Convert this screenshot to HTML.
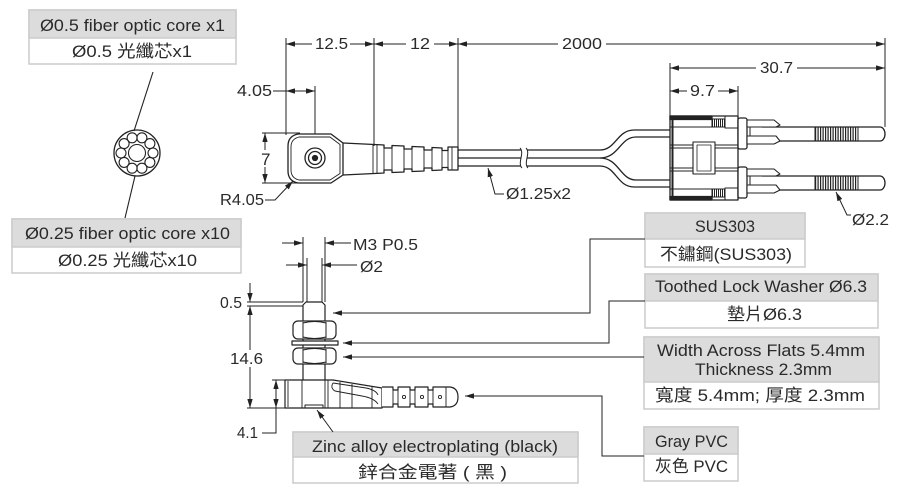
<!DOCTYPE html>
<html><head><meta charset="utf-8"><style>
html,body{margin:0;padding:0;background:#fff;}
svg{display:block;}
text{font-family:"Liberation Sans","Noto Sans CJK TC",sans-serif;fill:#2a2a2a;font-size:16px;}
text.b{font-size:17px;}
</style></head><body>
<svg width="900" height="491" viewBox="0 0 900 491" xmlns="http://www.w3.org/2000/svg">
<defs>
<marker id="ar" viewBox="0 0 10 6" refX="10" refY="3" markerWidth="9" markerHeight="5.4" markerUnits="userSpaceOnUse" orient="auto-start-reverse"><path d="M0,0L10,3L0,6z" fill="#222"/></marker>
<pattern id="kn" x="815" y="0" width="2.5" height="10" patternUnits="userSpaceOnUse"><line x1="0.6" y1="0" x2="0.6" y2="10" stroke="#222" stroke-width="1.2"/></pattern>
<pattern id="hs" x="712" y="0" width="2" height="10" patternUnits="userSpaceOnUse"><line x1="0.5" y1="0" x2="0.5" y2="10" stroke="#222" stroke-width="1"/></pattern>
</defs>
<rect width="900" height="491" fill="#fff"/>

<!-- ===== label boxes ===== -->
<g stroke="#cbcbcb" stroke-width="1.5">
<rect x="29" y="10" width="207" height="54" fill="#fff"/><rect x="29" y="10" width="207" height="28" fill="#dcdcdc"/>
<rect x="12" y="219" width="229" height="54" fill="#fff"/><rect x="12" y="219" width="229" height="28" fill="#dcdcdc"/>
<rect x="645" y="213" width="160" height="54" fill="#fff"/><rect x="645" y="213" width="160" height="26" fill="#dcdcdc"/>
<rect x="645" y="274" width="233" height="54" fill="#fff"/><rect x="645" y="274" width="233" height="27" fill="#dcdcdc"/>
<rect x="644" y="337" width="235" height="72" fill="#fff"/><rect x="644" y="337" width="235" height="45" fill="#dcdcdc"/>
<rect x="644" y="427" width="94" height="54" fill="#fff"/><rect x="644" y="427" width="94" height="27" fill="#dcdcdc"/>
<rect x="293" y="432" width="285" height="51" fill="#fff"/><rect x="293" y="432" width="285" height="25" fill="#dcdcdc"/>
</g>
<text class="b" x="40" y="31" textLength="185" lengthAdjust="spacingAndGlyphs">Ø0.5 fiber optic core x1</text>
<text class="b" x="72" y="57" textLength="120" lengthAdjust="spacingAndGlyphs">Ø0.5 光纖芯x1</text>
<text class="b" x="25" y="239" textLength="205" lengthAdjust="spacingAndGlyphs">Ø0.25 fiber optic core x10</text>
<text class="b" x="58" y="266" textLength="139" lengthAdjust="spacingAndGlyphs">Ø0.25 光纖芯x10</text>
<text class="b" x="695" y="232" textLength="60" lengthAdjust="spacingAndGlyphs">SUS303</text>
<text class="b" x="660" y="260" textLength="132" lengthAdjust="spacingAndGlyphs">不鏽鋼(SUS303)</text>
<text class="b" x="655" y="292" textLength="212" lengthAdjust="spacingAndGlyphs">Toothed Lock Washer Ø6.3</text>
<text class="b" x="727" y="320" textLength="75" lengthAdjust="spacingAndGlyphs">墊片Ø6.3</text>
<text class="b" x="657" y="356" textLength="208" lengthAdjust="spacingAndGlyphs">Width Across Flats 5.4mm</text>
<text class="b" x="695" y="375" textLength="137" lengthAdjust="spacingAndGlyphs">Thickness 2.3mm</text>
<text class="b" x="655" y="401" textLength="210" lengthAdjust="spacingAndGlyphs">寬度 5.4mm; 厚度 2.3mm</text>
<text class="b" x="655" y="447" textLength="73" lengthAdjust="spacingAndGlyphs">Gray PVC</text>
<text class="b" x="655" y="472" textLength="73" lengthAdjust="spacingAndGlyphs">灰色 PVC</text>
<text class="b" x="312" y="452" textLength="246" lengthAdjust="spacingAndGlyphs">Zinc alloy electroplating (black)</text>
<text class="b" x="358" y="478" textLength="149" lengthAdjust="spacingAndGlyphs">鋅合金電著 ( 黑 )</text>

<!-- ===== fiber cross-section ===== -->
<g stroke="#222" stroke-width="1.1" fill="none">
<line x1="153" y1="72" x2="134" y2="131"/>
<line x1="135" y1="176" x2="125" y2="218"/>
<circle cx="137" cy="153" r="23" stroke-width="1.3"/>
<circle cx="137" cy="153" r="8.5"/>
<circle cx="153" cy="153" r="5"/><circle cx="149.9" cy="162.4" r="5"/><circle cx="141.9" cy="168.2" r="5"/><circle cx="132.1" cy="168.2" r="5"/><circle cx="124.1" cy="162.4" r="5"/>
<circle cx="121" cy="153" r="5"/><circle cx="124.1" cy="143.6" r="5"/><circle cx="132.1" cy="137.8" r="5"/><circle cx="141.9" cy="137.8" r="5"/><circle cx="149.9" cy="143.6" r="5"/>
</g>

<!-- ===== top view dimensions ===== -->
<g stroke="#222" stroke-width="1" fill="none">
<line x1="286" y1="38" x2="286" y2="135"/>
<line x1="374" y1="38" x2="374" y2="146"/>
<line x1="458" y1="38" x2="458" y2="149"/>
<line x1="885" y1="38" x2="885" y2="127"/>
<line x1="286" y1="44" x2="374" y2="44" marker-start="url(#ar)" marker-end="url(#ar)"/>
<line x1="374" y1="44" x2="458" y2="44" marker-start="url(#ar)" marker-end="url(#ar)"/>
<line x1="458" y1="44" x2="885" y2="44" marker-start="url(#ar)" marker-end="url(#ar)"/>
<line x1="315" y1="86" x2="315" y2="158"/>
<line x1="273" y1="91" x2="286" y2="91"/>
<line x1="286" y1="91" x2="315" y2="91" marker-start="url(#ar)" marker-end="url(#ar)"/>
<line x1="262" y1="133" x2="300" y2="133"/>
<line x1="262" y1="183" x2="300" y2="183"/>
<line x1="265" y1="133" x2="265" y2="183" marker-start="url(#ar)" marker-end="url(#ar)"/>
<polyline points="265,200 275,200 293,181" marker-end="url(#ar)"/>
<line x1="670" y1="63" x2="670" y2="116"/>
<line x1="738" y1="86" x2="738" y2="116"/>
<line x1="670" y1="68" x2="885" y2="68" marker-start="url(#ar)" marker-end="url(#ar)"/>
<line x1="670" y1="91" x2="738" y2="91" marker-start="url(#ar)" marker-end="url(#ar)"/>
<polyline points="504,194 495,194 488,168" marker-end="url(#ar)"/>
<polyline points="851,215 847,215 836,192" marker-end="url(#ar)"/>
</g>
<g fill="#fff">
<rect x="312" y="36" width="38" height="16"/><rect x="406" y="36" width="28" height="16"/><rect x="558" y="36" width="48" height="16"/>
<rect x="756" y="60" width="41" height="16"/><rect x="687" y="83" width="31" height="16"/><rect x="259" y="150" width="13" height="17"/>
<rect x="228" y="350" width="38" height="17"/>
</g>
<text x="315" y="49" textLength="33" lengthAdjust="spacingAndGlyphs">12.5</text>
<text x="410" y="49" textLength="20" lengthAdjust="spacingAndGlyphs">12</text>
<text x="562" y="49" textLength="40" lengthAdjust="spacingAndGlyphs">2000</text>
<text x="237" y="96" textLength="35" lengthAdjust="spacingAndGlyphs">4.05</text>
<text x="261" y="165" style="font-size:17px">7</text>
<text x="220" y="205" textLength="44" lengthAdjust="spacingAndGlyphs">R4.05</text>
<text x="760" y="73" textLength="33" lengthAdjust="spacingAndGlyphs">30.7</text>
<text x="690" y="96" textLength="25" lengthAdjust="spacingAndGlyphs">9.7</text>
<text x="506" y="199" textLength="65" lengthAdjust="spacingAndGlyphs">Ø1.25x2</text>
<text x="852" y="225" textLength="37" lengthAdjust="spacingAndGlyphs">Ø2.2</text>

<!-- ===== top view: head + boot ===== -->
<g stroke="#222" stroke-width="1.3" fill="none" stroke-linejoin="round">
<path d="M298,134 L331,134 L343,143 L343,175 L331,183 L298,183 Q288,181 288,171 L288,146 Q288,136 298,134 Z" fill="#fff"/>
<path d="M299,137 L330,137 L340,144.5 L340,173.5 L330,180 L299,180 Q291,178 291,170 L291,147 Q291,139 299,137 Z" stroke-width="0.9"/>
<circle cx="315" cy="158" r="10"/>
<circle cx="315" cy="158" r="6.5"/>
<circle cx="315" cy="158" r="2.5" fill="#222"/>
<path d="M343,143 L384,145 L384,148 L392,148 L392,145.5 L404,146 L404,149 L412,149 L412,146.5 L424,147 L424,150 L432,150 L432,147.5 L442,148 L442,150.5 L448,150.5 L448,147 L458,147 L458,170 L448,170 L448,167.5 L442,167.5 L442,170 L432,170.5 L432,168 L424,168 L424,171 L412,171.5 L412,169 L404,169 L404,172 L392,172.5 L392,170 L384,170 L384,173 L343,175"/>
<path d="M373,145 V173 M377,145 V173 M384,148 V170 M392,148 V170 M404,149 V169 M412,149 V169 M424,150 V168 M432,150 V168 M442,150 V168 M448,150 V168 M452,147 V170" stroke-width="0.9"/>
<!-- cable -->
<path d="M458,150 H521 M458,158 H521 M458,166 H521 M527,150 H600 M527,158 H600 M527,166 H600"/>
<path d="M520,148 C525,153 517,163 522,168 M526,148 C531,153 523,163 528,168" stroke-width="1"/>
<path d="M600,150 C616,150 617,130 634,130 L670,130"/>
<path d="M600,158 C619,158 620,137 636,137 L670,137"/>
<path d="M600,158 C619,158 620,180 636,180 L670,180"/>
<path d="M600,166 C616,166 617,187 634,187 L670,187"/>
<!-- connector housing -->
<rect x="670" y="116" width="68" height="84" fill="#fff"/>
<line x1="672.5" y1="117" x2="672.5" y2="199" stroke-width="2"/>
<rect x="670" y="116" width="42" height="3.5" fill="#222"/>
<rect x="670" y="196.5" width="42" height="3.5" fill="#222"/>
<rect x="712" y="119" width="13" height="8" fill="url(#hs)" stroke-width="1"/>
<rect x="712" y="189" width="13" height="8" fill="url(#hs)" stroke-width="1"/>
<rect x="725" y="116" width="13" height="12" stroke-width="1"/>
<rect x="725" y="188" width="13" height="12" stroke-width="1"/>
<path d="M670,127 H712 M670,145 H693 M715,145 H738 M670,148 H693 M715,148 H738 M670,168 H693 M715,168 H738 M670,171 H693 M715,171 H738 M670,189 H712" stroke-width="1"/>
<rect x="693" y="142" width="22" height="32" stroke-width="1.1"/>
<rect x="697" y="145" width="14" height="26" stroke-width="0.8"/>
<!-- flanges -->
<rect x="738" y="118" width="9" height="31" rx="2" fill="#fff"/>
<rect x="738" y="167" width="9" height="31" rx="2" fill="#fff"/>
<!-- ferrules -->
<path d="M762,127 L880,127 A5,7 0 0 1 880,141 L762,141" fill="#fff"/>
<path d="M762,176 L880,176 A5,7 0 0 1 880,190 L762,190" fill="#fff"/>
<rect x="815" y="127" width="43" height="14" fill="url(#kn)" stroke-width="1"/>
<rect x="815" y="176" width="43" height="14" fill="url(#kn)" stroke-width="1"/>
<!-- fingers -->
<path d="M747,120 L774,120 L780,125 L776,127 L747,127 Z M747,136 L776,136 L780,141 L774,144 L747,144 Z" fill="#fff" stroke-width="1.1"/>
<path d="M747,169 L774,169 L780,174 L776,176 L747,176 Z M747,185 L776,185 L780,190 L774,193 L747,193 Z" fill="#fff" stroke-width="1.1"/>
<path d="M750,127 V136 M750,176 V185" stroke-width="1"/>
</g>

<!-- ===== side view ===== -->
<g stroke="#222" stroke-width="1" fill="none">
<line x1="303" y1="237" x2="303" y2="302"/>
<line x1="325" y1="237" x2="325" y2="302"/>
<line x1="307" y1="258" x2="307" y2="305"/>
<line x1="322" y1="258" x2="322" y2="305"/>
<line x1="282" y1="243" x2="303" y2="243" marker-end="url(#ar)"/>
<line x1="351" y1="243" x2="325" y2="243" marker-end="url(#ar)"/>
<line x1="286" y1="265" x2="307" y2="265" marker-end="url(#ar)"/>
<line x1="357" y1="265" x2="322" y2="265" marker-end="url(#ar)"/>
<line x1="247" y1="302" x2="303" y2="302"/>
<line x1="247" y1="306" x2="303" y2="306"/>
<line x1="250" y1="283" x2="250" y2="302" marker-end="url(#ar)"/>
<line x1="250" y1="306" x2="250" y2="408" marker-start="url(#ar)" marker-end="url(#ar)"/>
<line x1="247" y1="408" x2="285" y2="408"/>
<line x1="272" y1="380" x2="285" y2="380"/>
<line x1="276" y1="380" x2="276" y2="408" marker-start="url(#ar)" marker-end="url(#ar)"/>
<polyline points="276,408 276,433 262,433"/>
<!-- leaders -->
<polyline points="645,239 590,239 590,313 333,313" marker-end="url(#ar)"/>
<polyline points="645,301 609,301 609,343 343,343" marker-end="url(#ar)"/>
<polyline points="644,357 343,357" marker-end="url(#ar)"/>
<polyline points="644,456 602,456 602,396 465,396" marker-end="url(#ar)"/>
<line x1="333" y1="432" x2="317" y2="410" marker-end="url(#ar)"/>
</g>
<rect x="228" y="350" width="38" height="17" fill="#fff"/>
<text x="353" y="250" textLength="65" lengthAdjust="spacingAndGlyphs">M3 P0.5</text>
<text x="360" y="272" textLength="23" lengthAdjust="spacingAndGlyphs">Ø2</text>
<text x="220" y="308" textLength="22" lengthAdjust="spacingAndGlyphs">0.5</text>
<text x="230" y="364" textLength="33" lengthAdjust="spacingAndGlyphs">14.6</text>
<text x="237" y="438" textLength="21" lengthAdjust="spacingAndGlyphs">4.1</text>

<g stroke="#222" stroke-width="1.2" fill="none" stroke-linejoin="round">
<path d="M303,380 L303,305 L306,302 L322,302 L325,305 L325,380" fill="#fff"/>
<!-- nut 1 -->
<rect x="293" y="321" width="43" height="18" rx="5" fill="#fff"/>
<path d="M303,322 V338 M326,322 V338 M303,323 Q314.5,320 326,323 M303,337 Q314.5,340 326,337" stroke-width="1"/>
<!-- washer -->
<rect x="292" y="341" width="46" height="4" fill="#fff"/>
<!-- nut 2 -->
<rect x="293" y="348" width="43" height="16" rx="5" fill="#fff"/>
<path d="M303,349 V363 M326,349 V363 M303,350 Q314.5,347 326,350 M303,362 Q314.5,365 326,362" stroke-width="1"/>
<!-- base body -->
<path d="M285,380 L333,380 L382,388 L382,407 L382,408 L285,408 Z" fill="#fff"/>
<path d="M288,381 V407 M302,380 V408 M325,380 V408 M328,380 V408 M340,382 V408 M352,384 V408 M372,387 V408" stroke-width="0.9"/>
<path d="M333,383 Q330,388 335,391 L362,396 Q374,398 378,404" stroke-width="0.9"/>
<path d="M333,383 L366,388 Q376,390 378,395" stroke-width="0.9"/>
<rect x="305" y="405" width="18" height="3" stroke-width="1"/>
<!-- side boot -->
<path d="M382,387 L393,387 L393,390 L398,390 L398,387 L410,387 L410,390 L415,390 L415,387 L428,387 L428,390 L433,390 L433,387 L450,387 Q458,388 458,397 Q458,406 450,407 L433,407 L433,404 L428,404 L428,407 L415,407 L415,404 L410,404 L410,407 L398,407 L398,404 L393,404 L393,407 L382,407" fill="#fff"/>
<path d="M393,390 V404 M398,390 V404 M410,390 V404 M415,390 V404 M428,390 V404 M433,390 V404 M446,387 V407" stroke-width="0.9"/>
<circle cx="404" cy="397" r="1.6" stroke-width="0.9"/><circle cx="422" cy="397" r="1.6" stroke-width="0.9"/><circle cx="440" cy="397" r="1.6" stroke-width="0.9"/>
</g>
</svg>
</body></html>
